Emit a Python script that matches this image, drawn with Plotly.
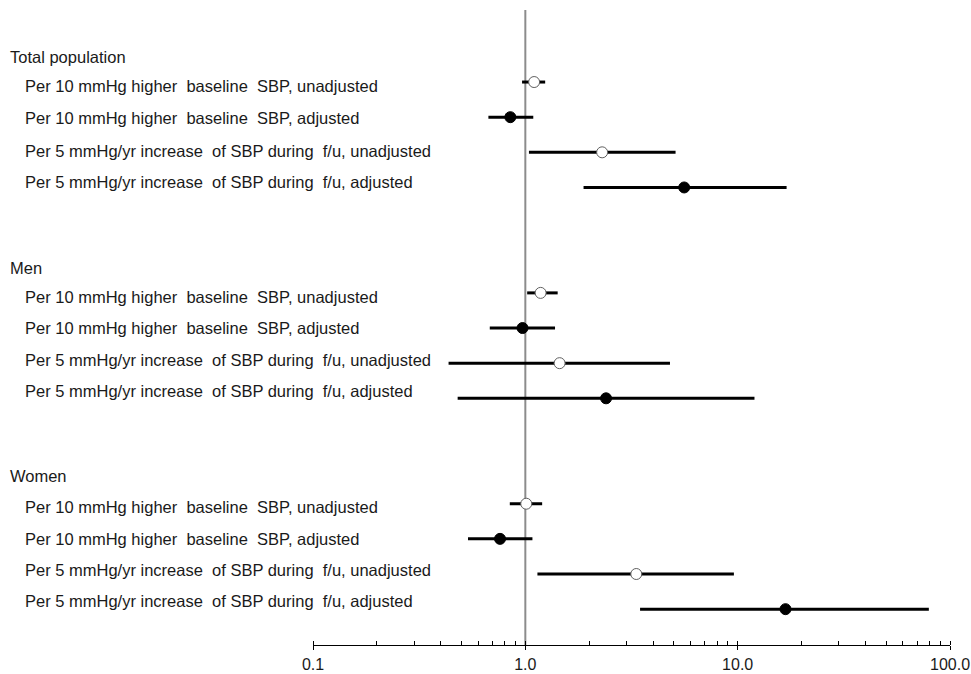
import plotly.graph_objects as go

# ---------------- data ----------------
groups = ["Total population", "Men", "Women"]
row_labels = [
    "Per 10 mmHg higher  baseline  SBP, unadjusted",
    "Per 10 mmHg higher  baseline  SBP, adjusted",
    "Per 5 mmHg/yr increase  of SBP during  f/u, unadjusted",
    "Per 5 mmHg/yr increase  of SBP during  f/u, adjusted",
]
adjusted = [False, True, False, True]

# hazard ratio estimates, lower and upper confidence limits (per group, per row)
est = {
    "Total population": [1.10, 0.85, 2.30, 5.60],
    "Men":              [1.18, 0.97, 1.45, 2.40],
    "Women":            [1.01, 0.76, 3.33, 16.8],
}
low = {
    "Total population": [0.965, 0.67, 1.04, 1.88],
    "Men":              [1.02, 0.68, 0.435, 0.48],
    "Women":            [0.845, 0.537, 1.14, 3.47],
}
high = {
    "Total population": [1.24, 1.09, 5.10, 17.0],
    "Men":              [1.42, 1.38, 4.80, 12.0],
    "Women":            [1.20, 1.08, 9.60, 79.5],
}
tick_vals = [0.1, 1, 10, 100]
tick_text = ["0.1", "1.0", "10.0", "100.0"]

# ---------------- layout constants ----------------
W, H = 971, 674
ML, MR, MT, MB = 313, 21, 10, 29
PW, PH = W - ML - MR, H - MT - MB
slot_gap = 2           # empty slots between groups
y_top, y_bot = -2.05, 16.02

# slot index of each bar row
rows_y = []
for gi, g in enumerate(groups):
    for ri in range(len(row_labels)):
        rows_y.append(gi * (len(row_labels) + slot_gap) + ri)

fig = go.Figure()

# reference line at 1
fig.add_trace(go.Scatter(x=[1, 1], y=[y_top, y_bot], mode="lines",
                         line=dict(color="#8c8c8c", width=2),
                         hoverinfo="skip", showlegend=False))

for adj in (False, True):
    xs, ys, ep, em = [], [], [], []
    k = 0
    for gi, g in enumerate(groups):
        for ri in range(len(row_labels)):
            if adjusted[ri] == adj:
                e = est[g][ri]
                xs.append(e)
                ys.append(rows_y[k])
                ep.append(high[g][ri] - e)
                em.append(e - low[g][ri])
            k += 1
    fig.add_trace(go.Scatter(
        x=xs, y=ys, mode="markers",
        marker=dict(size=11, symbol="circle",
                    color="black" if adj else "white",
                    line=dict(color="black" if adj else "#606060", width=1)),
        error_x=dict(type="data", symmetric=False, array=ep, arrayminus=em,
                     color="black", thickness=3, width=0),
        showlegend=False, cliponaxis=False))

# text labels (pixel rows of the left-hand table)
label_px_headers = [57, 268, 476]
label_px_rows = [[86, 118, 151, 182], [297, 328, 360, 391], [507, 539, 570, 601]]

def px2paper_y(py):
    return 1 - (py - MT) / PH

def px2paper_x(px):
    return (px - ML) / PW

font = dict(family="Liberation Sans, Arial, sans-serif", size=16.5, color="#1a1a1a")
for gi, g in enumerate(groups):
    fig.add_annotation(text=g, xref="paper", yref="paper",
                       x=px2paper_x(8), y=px2paper_y(label_px_headers[gi]),
                       xanchor="left", yanchor="middle", showarrow=False, font=font)
    for ri, lab in enumerate(row_labels):
        fig.add_annotation(text=lab.replace("  ", " \u00a0"), xref="paper", yref="paper",
                           x=px2paper_x(23), y=px2paper_y(label_px_rows[gi][ri]),
                           xanchor="left", yanchor="middle", showarrow=False, font=font)

axis_common = dict(type="log", range=[-1, 2], automargin=False)
fig.update_layout(
    width=W, height=H,
    margin=dict(l=ML, r=MR, t=MT, b=MB, pad=0, autoexpand=False),
    plot_bgcolor="white", paper_bgcolor="white",
    xaxis=dict(**axis_common, tickvals=tick_vals, ticktext=tick_text,
               ticks="outside", ticklen=4, tickwidth=1, tickcolor="black",
               ticklabelstandoff=1,
               showline=True, linecolor="black", linewidth=1,
               showgrid=False, zeroline=False,
               tickfont=dict(family="Liberation Sans, Arial, sans-serif", size=16, color="#1a1a1a"),
               minor=dict(ticks="inside", ticklen=4, tickcolor="black", tickwidth=1,
                          dtick="D1", showgrid=False)),
    xaxis2=dict(**axis_common, overlaying="x", anchor="y", side="bottom",
                tickvals=tick_vals, showticklabels=False,
                ticks="inside", ticklen=4, tickwidth=1, tickcolor="black",
                showgrid=False, zeroline=False, showline=False),
    yaxis=dict(range=[y_bot, y_top], visible=False, showgrid=False, zeroline=False),
)
# dummy trace to activate xaxis2
fig.add_trace(go.Scatter(x=[1], y=[y_bot], xaxis="x2", mode="markers",
                         marker=dict(opacity=0), hoverinfo="skip", showlegend=False))

fig.write_html("out.html", config={"displayModeBar": False},
               post_script="document.body.style.margin='0';")
